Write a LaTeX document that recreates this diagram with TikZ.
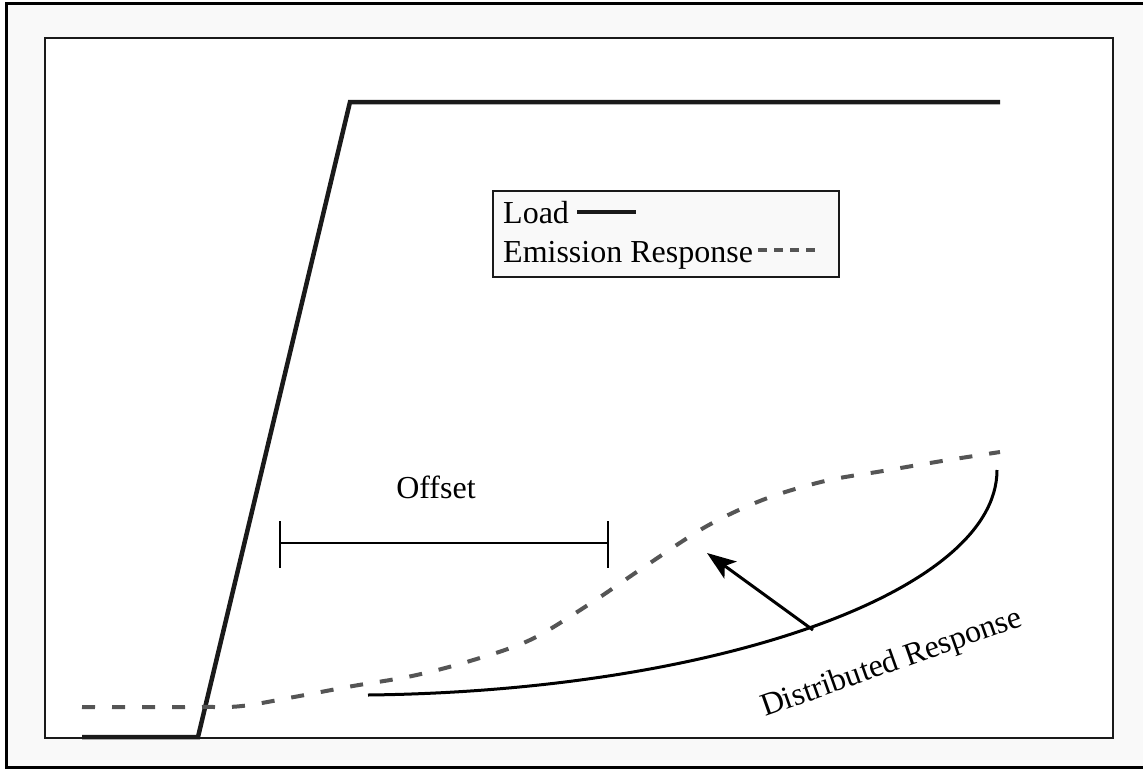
\documentclass[tikz,border=0pt]{standalone}
\usepackage{fontspec}
\setmainfont{Liberation Serif}
\usetikzlibrary{arrows.meta,calc}
\definecolor{bgrey}{HTML}{F9F9F9}
\definecolor{loadc}{HTML}{1A1A1A}
\definecolor{emisc}{HTML}{555555}
\tikzset{
  framebox/.style={draw=loadc, line width=1.5pt},
  loadline/.style={draw=loadc, line width=4.5pt, line join=miter},
  emisline/.style={draw=emisc, line width=4pt, dash pattern=on 13pt off 17pt},
  distline/.style={draw=black, line width=3pt},
  lbl/.style={inner sep=0pt, font=\fontsize{32}{38}\selectfont},
}
\begin{document}
\begin{tikzpicture}[x=1pt,y=-1pt]
\useasboundingbox (0,0) rectangle (1143,769);
% outer frame
\fill[bgrey] (6.5,3) rectangle (1143,767.5);
\draw[line width=3pt] (1143,3) -- (6.5,3) -- (6.5,767.5) -- (1143,767.5);
% inner plot area
\draw[framebox, fill=white] (45,38) rectangle (1113,738);
% load curve
\draw[loadline] (82,737) -- (198,737) -- (350,102) -- (1000,102);
% emission response (dashed)
\draw[emisline] plot[smooth, tension=0.55] coordinates {
  (82,707) (200,707) (242,706) (294,697) (353,686) (412,676) (470,661)
  (530,640) (588,605) (647,565) (707,526) (765,499) (825,481)
  (883,471) (942,461) (1000,452)};
% distributed response (solid)
\coordinate (dA) at (368,695);
\coordinate (dB) at (997,470);
\draw[distline] (dA) .. controls (715,691) and (997,592) .. (dB);
% arrow
\coordinate (arrS) at (813,630);
\coordinate (arrE) at (707,553);
\draw[line width=3pt, -{Stealth[length=29pt, width=21pt, inset=7pt]}] (arrS) -- (arrE);
% offset bar
\coordinate (offL) at (280,543);
\coordinate (offR) at (608,543);
\draw[line width=2.4pt] (offL) -- (offR);
\draw[line width=2.4pt] ($(offL)+(0,-22)$) -- ($(offL)+(0,25)$);
\draw[line width=2.4pt] ($(offR)+(0,-22)$) -- ($(offR)+(0,25)$);
\node[lbl, anchor=base] (offtxt) at (436,498) {Offset};
% distributed label
\node[lbl, anchor=base west, rotate=19.5] (disttxt) at (765,717) {Distributed Response};
% legend
\draw[line width=1.5pt, draw=loadc, fill=bgrey] (493,191) rectangle (839,277);
\node[lbl, anchor=base west] (legload) at (503,223) {Load};
\node[lbl, anchor=base west] (legemis) at (503,262) {Emission Response};
\draw[loadline] (577,212) -- (636,212);
\draw[emisc, line width=4pt, dash pattern=on 9pt off 7pt] (758,250) -- (815,250);
\end{tikzpicture}
\end{document}
